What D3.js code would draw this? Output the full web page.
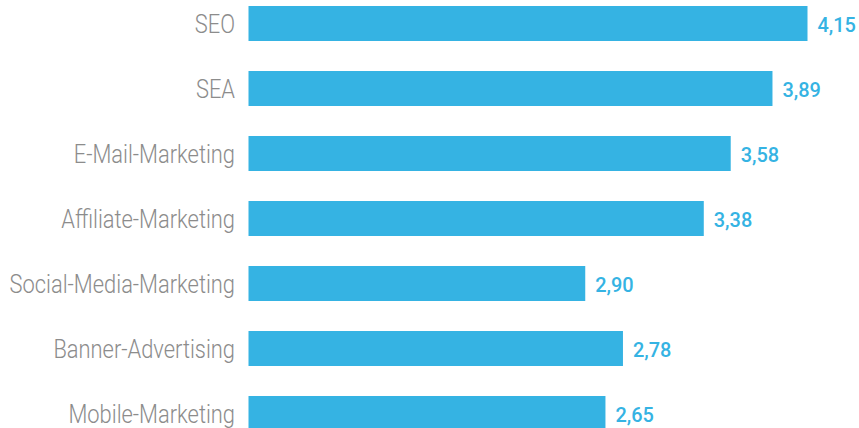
<!DOCTYPE html>
<html lang="de">
<head>
    <meta charset="UTF-8">
    <title>Marketing-Kanäle</title>
    <script src="https://d3js.org/d3.v7.min.js"></script>
    <style>
        body { margin: 0; background: #fff; }
    </style>
</head>
<body>
    <svg width="859" height="428"></svg>
    <script type="text/javascript">
        // Data
        var categories = ["SEO", "SEA", "E-Mail-Marketing", "Affiliate-Marketing",
                          "Social-Media-Marketing", "Banner-Advertising", "Mobile-Marketing"];
        // bar lengths as drawn in the picture (Social-Media bar is drawn at ~2.50)
        var barValues = [4.15, 3.89, 3.58, 3.38, 2.50, 2.78, 2.65];
        // printed value labels
        var valueLabels = ["4,15", "3,89", "3,58", "3,38", "2,90", "2,78", "2,65"];

        var data = categories.map(function(c, i) {
            return {name: c, value: barValues[i], label: valueLabels[i]};
        });

        var svg = d3.select("svg");

        var x = d3.scaleLinear()
                  .domain([0, 4.15])
                  .range([248.5, 807.5]);

        var y = d3.scaleBand()
                  .domain(categories)
                  .range([6, 431])
                  .paddingInner(30 / 65)
                  .paddingOuter(0);

        var blue = "#35b3e3";

        // Bars
        svg.selectAll(".bar")
           .data(data)
           .enter().append("rect")
           .attr("class", "bar")
           .attr("x", x(0))
           .attr("y", function(d) { return y(d.name); })
           .attr("width", function(d) { return x(d.value) - x(0); })
           .attr("height", y.bandwidth())
           .attr("fill", blue);

        // Category labels (condensed look via horizontal scaling)
        var squeeze = 0.875;
        svg.selectAll(".cat")
           .data(data)
           .enter().append("text")
           .attr("class", "cat")
           .attr("transform", function(d) {
               return "translate(235," + (y(d.name) + y.bandwidth() / 2) + ") scale(" + squeeze + ",1)";
           })
           .attr("dy", "0.36em")
           .attr("text-anchor", "end")
           .attr("font-family", "Roboto, 'Liberation Sans', sans-serif")
           .attr("font-weight", 300)
           .attr("font-size", "25px")
           .attr("fill", "#8c8c8c")
           .text(function(d) { return d.name; });

        // Value labels
        svg.selectAll(".val")
           .data(data)
           .enter().append("text")
           .attr("class", "val")
           .attr("transform", function(d) {
               return "translate(" + (x(d.value) + 10) + "," + (y(d.name) + y.bandwidth() / 2 + 1) + ") scale(0.95,1)";
           })
           .attr("dy", "0.36em")
           .attr("font-family", "Roboto, 'Liberation Sans', sans-serif")
           .attr("font-weight", 500)
           .attr("font-size", "21px")
           .attr("fill", blue)
           .text(function(d) { return d.label; });
    </script>
</body>
</html>
